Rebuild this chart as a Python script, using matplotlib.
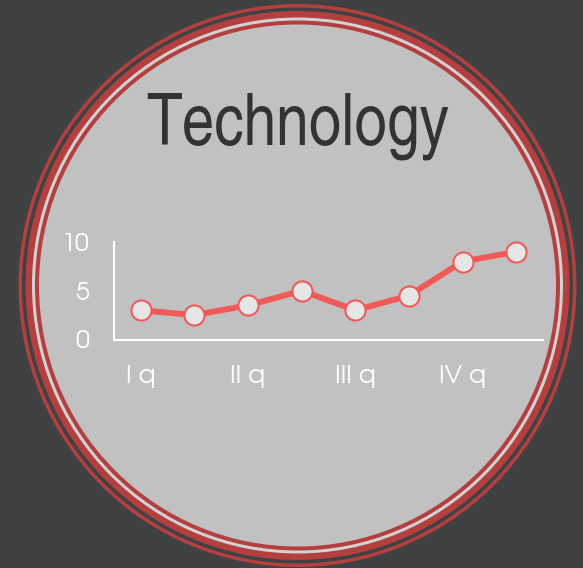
import matplotlib
matplotlib.use('Agg')
import matplotlib.pyplot as plt
from matplotlib.patches import Ellipse

# ----------------------------------------------------------------------
# Data
# ----------------------------------------------------------------------
title = 'Technology'
values = [3.0, 2.5, 3.5, 5.0, 3.0, 4.5, 8.0, 9.0]
tick_pos = [0, 2, 4, 6]
tick_labels = ['I q', 'II q', 'III q', 'IV q']
y_ticks = [0, 5, 10]

BG = '#404143'
FILL = '#c1c1c1'
RING = '#b33f3f'
LIGHT = '#d2d2d2'
LINE = '#f25a5a'
DOT = '#e6e6e6'

W, H = 583, 568
fig = plt.figure(figsize=(W / 100, H / 100), dpi=100, facecolor=BG)

# background axes in pixel coordinates (y down)
bg = fig.add_axes([0, 0, 1, 1])
bg.set_xlim(0, W)
bg.set_ylim(H, 0)
bg.axis('off')

cx, cy = 297.5, 285.5
# (vertical radius, colour), horizontal radius is a touch smaller
rings = [(281.5, RING), (278.0, BG), (274.5, RING), (268.0, LIGHT),
         (265.0, RING), (261.0, FILL)]
for r, c in rings:
    bg.add_patch(Ellipse((cx, cy), 2 * (r - 2.5), 2 * r, color=c, lw=0))

bg.text(298, 145, title, ha='center', va='baseline', color='#333333',
        fontsize=51.5, family=['TeX Gyre Heros Cn', 'DejaVu Sans'])

# line chart
left, right, top, bottom = 114, 543, 242, 339.5
ax = fig.add_axes([left / W, 1 - bottom / H, (right - left) / W, (bottom - top) / H])
ax.set_facecolor('none')
ax.plot(range(len(values)), values, '-o', color=LINE, lw=4.3,
        ms=14.5, mfc=DOT, mec=LINE, mew=1.5, clip_on=False, zorder=3)
ax.set_xlim(-0.5, 7.5)
ax.set_ylim(0, 10)
for s in ['top', 'right']:
    ax.spines[s].set_visible(False)
for s in ['left', 'bottom']:
    ax.spines[s].set_color('white')
    ax.spines[s].set_linewidth(1.5)
ax.set_xticks(tick_pos)
ax.set_xticklabels(tick_labels)
ax.set_yticks(y_ticks)
ax.tick_params(length=0, colors='white', labelsize=18)
ax.tick_params(axis='x', pad=18)
ax.tick_params(axis='y', pad=18)
for lab in ax.get_xticklabels() + ax.get_yticklabels():
    lab.set_family(['TeX Gyre Adventor', 'DejaVu Sans'])

fig.savefig('out.png', dpi=100, facecolor=BG)
